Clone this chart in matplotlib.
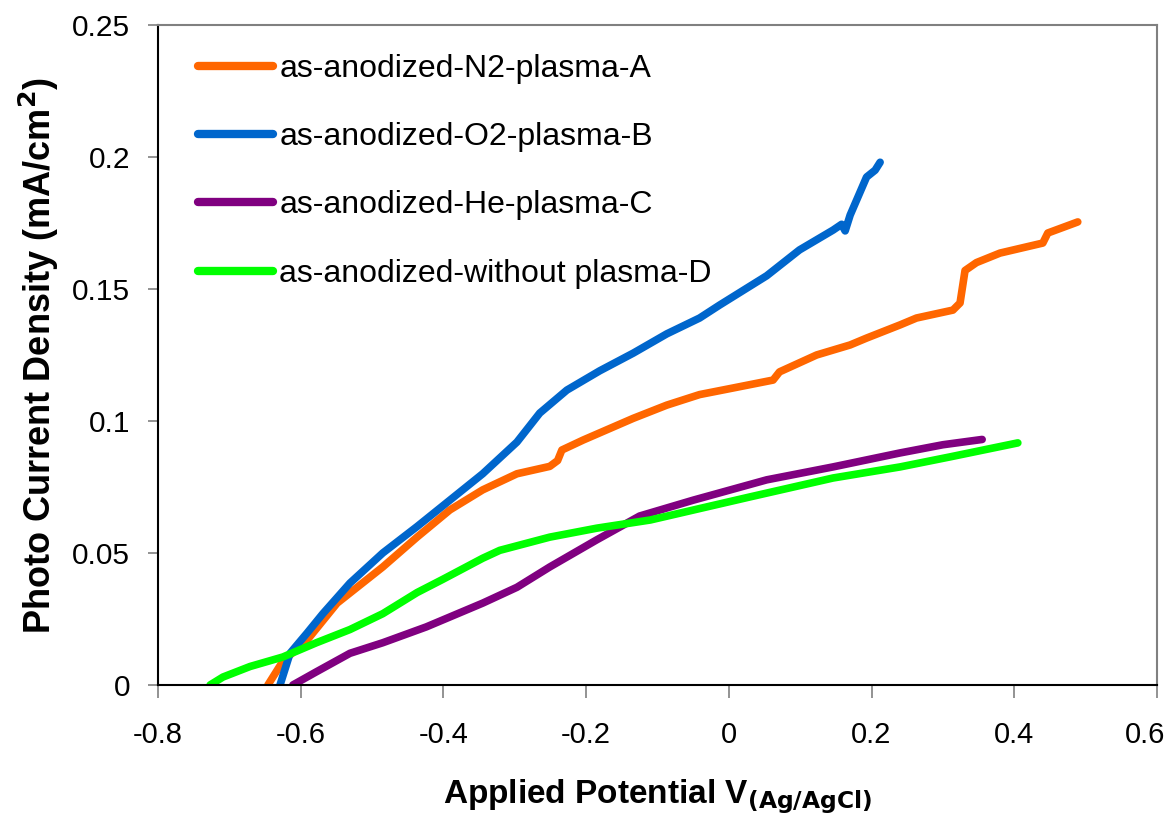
import matplotlib.pyplot as plt
import matplotlib.transforms as mtransforms

plt.rcParams['font.family'] = ['Liberation Sans', 'DejaVu Sans']

# series (potential V, current density mA/cm2)
n2_x = [-0.646, -0.625, -0.591, -0.549, -0.485, -0.437, -0.391, -0.345, -0.297,
        -0.251, -0.240, -0.234, -0.204, -0.134, -0.087, -0.041, 0.006, 0.062,
        0.071, 0.123, 0.170, 0.193, 0.240, 0.263, 0.314, 0.324, 0.331, 0.347,
        0.380, 0.440, 0.447, 0.489]
n2_y = [0.0, 0.009, 0.017, 0.031, 0.0447, 0.056, 0.0663, 0.0739, 0.080,
        0.0828, 0.085, 0.089, 0.0928, 0.101, 0.106, 0.110, 0.1125, 0.1155,
        0.1186, 0.125, 0.1288, 0.1314, 0.1364, 0.139, 0.142, 0.1447, 0.157, 0.160,
        0.1636, 0.1674, 0.1712, 0.1754]

o2_x = [-0.629, -0.615, -0.591, -0.569, -0.531, -0.485, -0.437, -0.391, -0.345,
        -0.297, -0.265, -0.227, -0.181, -0.134, -0.087, -0.041, -0.013, 0.053,
        0.099, 0.146, 0.158, 0.163, 0.170, 0.193, 0.205, 0.212]
o2_y = [0.0, 0.012, 0.0197, 0.027, 0.0386, 0.050, 0.060, 0.070, 0.080,
        0.092, 0.103, 0.1117, 0.119, 0.1257, 0.133, 0.139, 0.1439, 0.155,
        0.1648, 0.1723, 0.1745, 0.172, 0.178, 0.1924, 0.195, 0.198]

he_x = [-0.611, -0.578, -0.531, -0.485, -0.424, -0.345, -0.297, -0.251, -0.185,
        -0.125, -0.050, 0.053, 0.146, 0.240, 0.300, 0.355]
he_y = [0.0, 0.005, 0.012, 0.016, 0.022, 0.031, 0.037, 0.0447, 0.055,
        0.064, 0.070, 0.0777, 0.0826, 0.0879, 0.091, 0.093]

wo_x = [-0.727, -0.709, -0.671, -0.625, -0.578, -0.531, -0.485, -0.437, -0.401,
        -0.345, -0.321, -0.251, -0.185, -0.110, 0.029, 0.146, 0.240, 0.310,
        0.405]
wo_y = [0.0, 0.003, 0.007, 0.0106, 0.016, 0.021, 0.027, 0.035, 0.040,
        0.048, 0.051, 0.056, 0.0594, 0.0625, 0.0712, 0.0784, 0.0826, 0.0864,
        0.0917]

labels = ['as-anodized-N2-plasma-A', 'as-anodized-O2-plasma-B',
          'as-anodized-He-plasma-C', 'as-anodized-without plasma-D']
colors = ['#FF6600', '#0066CC', '#800080', '#00FF00']

fig = plt.figure(figsize=(11.74, 8.22), dpi=100)
ax = fig.add_axes([0.1346, 0.1667, 0.8509, 0.8029])

for xs, ys, lbl, c in zip([n2_x, o2_x, he_x, wo_x], [n2_y, o2_y, he_y, wo_y],
                          labels, colors):
    ax.plot(xs, ys, color=c, lw=5.5, label=lbl, solid_capstyle='round',
            solid_joinstyle='round')

ax.set_xlim(-0.8, 0.6)
ax.set_ylim(0, 0.25)
ax.set_xticks([-0.8, -0.6, -0.4, -0.2, 0, 0.2, 0.4, 0.6])
ax.set_xticklabels(['-0.8', '-0.6', '-0.4', '-0.2', '0', '0.2', '0.4', '0.6'])
ax.set_yticks([0, 0.05, 0.1, 0.15, 0.2, 0.25])
ax.set_yticklabels(['0', '0.05', '0.1', '0.15', '0.2', '0.25'])
ax.tick_params(axis='x', direction='out', length=9, width=1.2, color='#808080',
               labelsize=21, pad=17)
ax.tick_params(axis='y', direction='out', length=7, width=1.2, color='#808080',
               labelsize=21.5, pad=13)

# last x label sits a little left so it stays inside the figure
last = ax.get_xticklabels()[-1]
last.set_transform(last.get_transform() +
                   mtransforms.ScaledTranslation(-12 / 100, 0, fig.dpi_scale_trans))

ax.spines['left'].set_color('black')
ax.spines['bottom'].set_color('black')
ax.spines['top'].set_color('#808080')
ax.spines['right'].set_color('#808080')
for s in ax.spines.values():
    s.set_linewidth(1.5)

ax.set_xlabel(r'Applied Potential V$_{\mathbf{(Ag/AgCl)}}$', fontsize=24,
              fontweight='bold', labelpad=20)
ax.set_ylabel(r'Photo Current Density (mA/cm$^\mathbf{2}$)', fontsize=26,
              fontweight='bold', labelpad=8)

leg = ax.legend(loc='upper left', frameon=False, fontsize=23, handlelength=2.35,
                handletextpad=0.2, labelspacing=1.2,
                bbox_to_anchor=(0.011, 1.0))
for line in leg.get_lines():
    line.set_linewidth(6)

fig.savefig('out.png', dpi=100)
